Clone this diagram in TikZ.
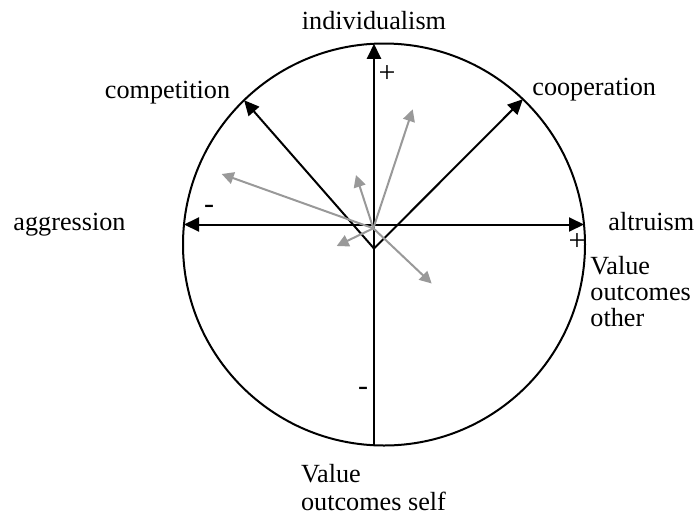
\documentclass[tikz,border=0pt]{standalone}
\usepackage{fontspec}
\setmainfont{Liberation Serif}
\usetikzlibrary{arrows.meta}

\begin{document}
\begin{tikzpicture}[
  x=0.5pt, y=-0.5pt,
  every node/.style={font=\fontsize{13.1}{14}\selectfont, inner sep=0pt},
  arrow/.style={line width=1pt, -{Triangle[length=7.5pt, width=7pt]}},
  twoway/.style={line width=1pt, {Triangle[length=7.5pt, width=7pt]}-{Triangle[length=7.5pt, width=7pt]}},
  pref/.style={draw=black!40, line width=1pt, -{Triangle[length=6pt, width=6pt]}},
  multi/.style={align=left, anchor=base west},
  sign/.style={font=\fontsize{15}{15}\selectfont},
]

\useasboundingbox (0,0) rectangle (696,515);

\draw[line width=1pt] (384,244.5) circle[radius=100.5pt];

% axes
\coordinate (top) at (374,43.75);
\coordinate (bottom) at (374,445.25);
\coordinate (left) at (184,224.5);
\coordinate (right) at (584,224.5);
\coordinate (V) at (374,248.5);
\coordinate (comp) at (244.1,100.2);
\coordinate (coop) at (522.9,99.2);

\draw[arrow] (bottom) -- (top);
\draw[twoway] (left) -- (right);
\draw[arrow] (V) -- (comp);
\draw[arrow] (V) -- (coop);

% individual preference vectors
\coordinate (g) at (373.3,228.3);
\coordinate (g1) at (221.7,174);
\coordinate (g2) at (356,175);
\coordinate (g3) at (412.7,109.3);
\coordinate (g4) at (336.7,246);
\coordinate (g5) at (431.7,283.5);
\foreach \p in {g1,g2,g3,g4,g5}
  \draw[pref] (g) -- (\p);

\node[anchor=base] (indiv) at (374,29) {individualism};
\node[anchor=base] (competition) at (167.5,98) {competition};
\node[anchor=base west] (cooperation) at (532,95.7) {cooperation};
\node[anchor=base] (aggression) at (69.5,230) {aggression};
\node[anchor=base west] (altruism) at (608,230) {altruism};
% base of a multi-line node is its last line
\node[multi, font=\fontsize{13.1}{13}\selectfont] (other) at (590,326) {Value\\outcomes\\other};
\node[multi] (self) at (300.7,510) {Value\\outcomes self};

\node[sign] (plustop) at (387,74) {+};
\node[sign] (minusleft) at (209,209) {-};
\node[sign] (plusright) at (577,242) {+};
\node[sign] (minusbottom) at (363,391) {-};

\end{tikzpicture}
\end{document}
